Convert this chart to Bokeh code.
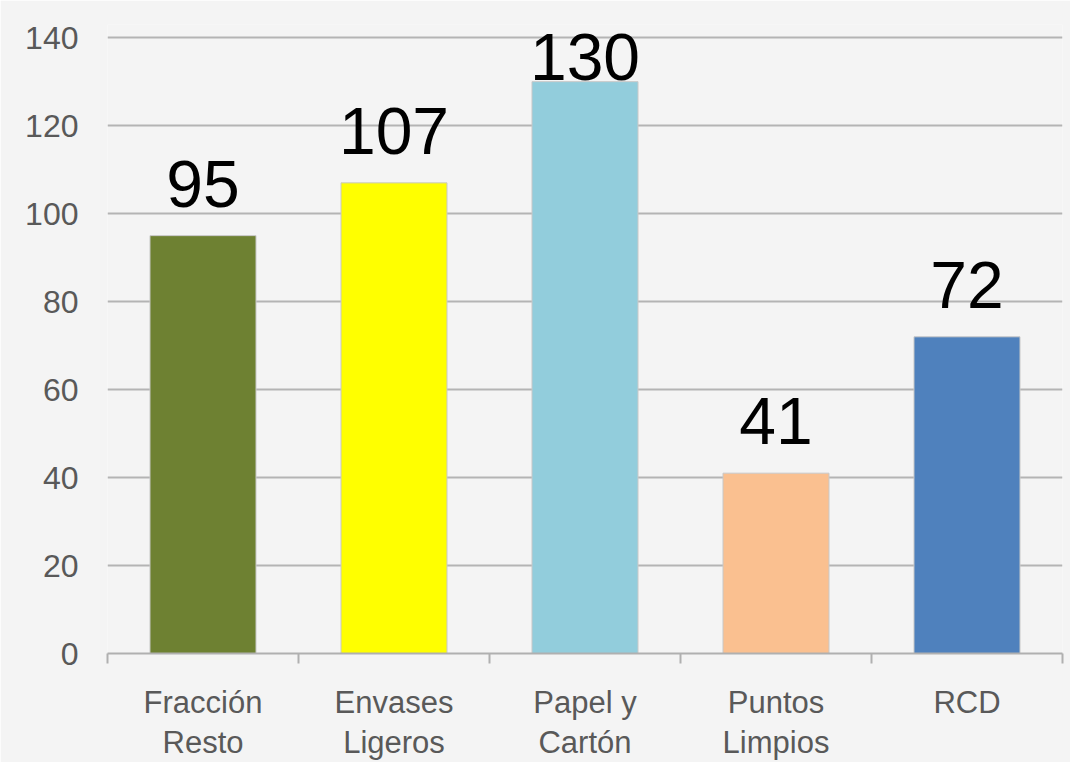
from bokeh.plotting import figure
from bokeh.models import ColumnDataSource, LabelSet, FixedTicker, Range1d
from bokeh.core.properties import value
from bokeh.embed import file_html
from bokeh.resources import INLINE

categories = ["Fracción\nResto", "Envases\nLigeros", "Papel y\nCartón", "Puntos\nLimpios", "RCD"]
values = [95, 107, 130, 41, 72]
colors = ["#6E8132", "#FFFF00", "#92CDDC", "#FAC090", "#4F81BD"]
y_ticks = [0, 20, 40, 60, 80, 100, 120, 140]

n = len(categories)
xs = [i + 0.5 for i in range(n)]
# Excel-style label placement: above the bar, or just at its top if there is no room
lab_y = [v + 6.6 if v + 6.6 + 12 <= 140 else v + 0.4 for v in values]

src = ColumnDataSource(dict(x=xs, top=values, color=colors,
                            label=[str(v) for v in values], ly=lab_y))

BG = "#f4f4f4"
p = figure(width=1070, height=762, output_backend="svg", toolbar_location=None,
           x_range=Range1d(0, n), y_range=Range1d(0, 143),
           min_border_left=107, min_border_right=8, min_border_top=24, min_border_bottom=104)
p.background_fill_color = BG
p.border_fill_color = BG
p.outline_line_color = None

p.vbar(x="x", top="top", width=0.555, bottom=0, source=src,
       fill_color="color", line_color="#c8c8c8", line_width=1)

labels = LabelSet(x="x", y="ly", text="label", source=src, text_align="center",
                  text_baseline="alphabetic", text_font_size=value("66px"),
                  text_font=value("Liberation Sans"), text_color="#000000")
p.add_layout(labels)

# y axis
p.yaxis.ticker = FixedTicker(ticks=y_ticks)
p.yaxis.axis_line_color = None
p.yaxis.major_tick_line_color = None
p.yaxis.minor_tick_line_color = None
p.yaxis.major_label_standoff = 23
p.yaxis.major_label_text_font = "Liberation Sans"
p.yaxis.major_label_text_font_size = "32px"
p.yaxis.major_label_text_color = "#595959"

# x axis: labels at category centres, tick marks at category boundaries
p.xaxis.ticker = FixedTicker(ticks=xs, minor_ticks=list(range(n + 1)))
p.xaxis.major_label_overrides = {x: c for x, c in zip(xs, categories)}
p.xaxis.axis_line_color = "#b0b0b0"
p.xaxis.axis_line_width = 2
p.xaxis.major_tick_line_color = None
p.xaxis.minor_tick_line_color = "#b0b0b0"
p.xaxis.minor_tick_line_width = 2
p.xaxis.minor_tick_in = 0
p.xaxis.minor_tick_out = 10
p.xaxis.major_label_standoff = 21
p.xaxis.major_label_text_font = "Liberation Sans"
p.xaxis.major_label_text_font_size = "31px"
p.xaxis.major_label_text_color = "#595959"
p.xaxis.major_label_text_line_height = 1.15

p.xgrid.grid_line_color = None
p.ygrid.ticker = FixedTicker(ticks=y_ticks)
p.ygrid.grid_line_color = "#b4b4b4"
p.ygrid.grid_line_width = 2

open("out.html", "w").write(file_html(p, INLINE))
